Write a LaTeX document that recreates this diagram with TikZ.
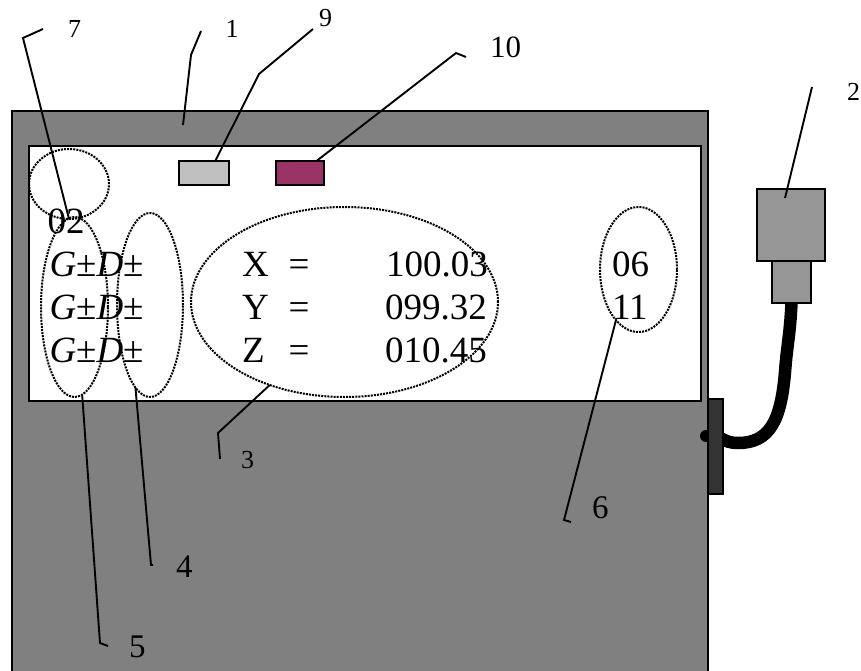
\documentclass[tikz,border=0pt]{standalone}
\usepackage{fontspec}
\setmainfont{Liberation Serif}
\usetikzlibrary{shapes.geometric}
\definecolor{bodygray}{HTML}{808080}
\definecolor{pluggray}{HTML}{969696}
\definecolor{btngray}{HTML}{C0C0C0}
\definecolor{btnpurple}{HTML}{993366}
\definecolor{clampgray}{HTML}{333333}
\tikzset{
  box/.style={rectangle,draw=black,line width=1.8pt,inner sep=0pt,outer sep=0pt},
  zone/.style={ellipse,draw=black,line width=2pt,inner sep=0pt,outer sep=0pt,dash pattern=on 2pt off 1.1pt},
  leader/.style={draw=black,line width=1.9pt,line join=miter},
  big/.style={anchor=base west,inner sep=0pt,outer sep=0pt,text=black,font=\fontsize{37}{40}\selectfont},
  lab/.style={anchor=base west,inner sep=0pt,outer sep=0pt,text=black},
  labS/.style={lab,font=\fontsize{26}{28}\selectfont},
  labL/.style={lab,font=\fontsize{33}{36}\selectfont},
}
\begin{document}
\begin{tikzpicture}[x=1pt,y=-1pt]
\useasboundingbox (0,0) rectangle (861,671);
\clip (0,0) rectangle (861,671);
\fill[white] (0,0) rectangle (861,671);
% housing, display
\node[box,fill=bodygray,minimum width=696pt,minimum height=579pt] (body) at (360,400.5) {};
\node[box,fill=white,line width=2.4pt,minimum width=672pt,minimum height=255pt] (screen) at (365,273.5) {};
% keys
\node[box,fill=btngray,minimum width=50pt,minimum height=24pt] (keyA) at (204,173) {};
\node[box,fill=btnpurple,minimum width=48pt,minimum height=24pt] (keyB) at (300,173) {};
% probe and cable
\node[circle,fill=black,inner sep=0pt,minimum size=12pt] (pin) at (706,436) {};
\node[box,fill=pluggray,minimum width=68pt,minimum height=72pt] (plugA) at (791,225) {};
\node[box,fill=pluggray,minimum width=39pt,minimum height=42pt] (plugB) at (791.5,282) {};
\coordinate (cableEnd) at (720,438);
\draw[line width=12.5pt,black] (plugB.south) .. controls (790,335) and (787,345) .. (785,372) .. controls (781,420) and (770,443) .. (738,443) .. controls (730,443) and (726,441) .. (cableEnd);
\node[box,fill=clampgray,minimum width=15pt,minimum height=95pt] (clamp) at (715.5,446.5) {};
% text
\node[big] (t02) at (47.5,233) {02};
\node[big] (g1) at (49.5,276) {\textit{G}±\textit{D}±};
\node[big] (g2) at (49.5,319) {\textit{G}±\textit{D}±};
\node[big] (g3) at (49.5,362) {\textit{G}±\textit{D}±};
\node[big] (x) at (242,276) {X};
\node[big] (y) at (242,319) {Y};
\node[big] (z) at (242,362) {Z};
\node[big] (e1) at (288.5,276) {=};
\node[big] (e2) at (288.5,319) {=};
\node[big] (e3) at (288.5,362) {=};
\node[big] (v1) at (386,276) {100.03};
\node[big] (v2) at (385,319) {099.32};
\node[big] (v3) at (385,362) {010.45};
\node[big] (u1) at (612,276) {06};
\node[big] (u2) at (612,319) {11};
% zones
\node[zone,minimum width=80pt,minimum height=70pt] (z7) at (69,184) {};
\node[zone,minimum width=67pt,minimum height=180pt] (z5) at (74.5,307) {};
\node[zone,minimum width=66pt,minimum height=184pt] (z4) at (150,305) {};
\node[zone,minimum width=307pt,minimum height=190pt] (z3) at (344.5,302) {};
\node[zone,minimum width=77pt,minimum height=125pt] (z6) at (638.5,269.5) {};
% labels
\node[labS] (n7) at (68,38) {7};
\node[labS] (n1) at (225.5,38) {1};
\node[labS] (n9) at (319,27) {9};
\node[labL,font=\fontsize{31}{36}\selectfont] (n10) at (490,58) {10};
\node[labS] (n2) at (847,101) {2};
\node[labS] (n3) at (241,468) {3};
\node[labL] (n4) at (176,577) {4};
\node[labL] (n5) at (129,657) {5};
\node[labL] (n6) at (592,518) {6};
% leader points
\coordinate (e7a) at (43,29);  \coordinate (e7b) at (23,38);
\coordinate (e1a) at (201,31); \coordinate (e1b) at (191,55); \coordinate (e1c) at (183,125);
\coordinate (e9a) at (313,29); \coordinate (e9b) at (259,74);
\coordinate (e10a) at (466,57); \coordinate (e10b) at (456,53);
\coordinate (e2a) at (812,87); \coordinate (e2c) at (785,198);
\coordinate (e3a) at (220,459); \coordinate (e3b) at (218,433);
\coordinate (e4a) at (153,565); \coordinate (e4b) at (151,565);
\coordinate (e5a) at (108,646); \coordinate (e5b) at (100,643);
\coordinate (e6a) at (571,522); \coordinate (e6b) at (564,520);
% leaders
\draw[leader] (e7a) -- (e7b) -- (z7.-90);
\draw[leader] (e1a) -- (e1b) -- (e1c);
\draw[leader] (e9a) -- (e9b) -- (keyA.47.5);
\draw[leader] (e10a) -- (e10b) -- (keyB.36.9);
\draw[leader] (e2a) -- (e2c);
\draw[leader] (e3a) -- (e3b) -- (z3.-132.3);
\draw[leader] (e4a) -- (e4b) -- (z4.-100);
\draw[leader] (e5a) -- (e5b) -- (z5.-85);
\draw[leader] (e6a) -- (e6b) -- (z6.-114);
\end{tikzpicture}
\end{document}
